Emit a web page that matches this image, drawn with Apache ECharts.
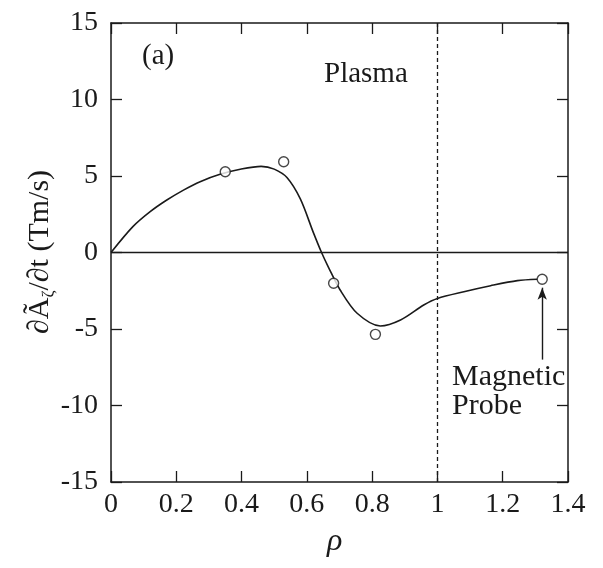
<!DOCTYPE html>
<html>
<head>
<meta charset="utf-8">
<script src="https://cdn.jsdelivr.net/npm/echarts@6/dist/echarts.min.js"></script>
<style>
html,body{margin:0;padding:0;background:#fff;}
#c{width:603px;height:568px;}
</style>
</head>
<body>
<div id="c"></div>
<script>
// Traced curve (rho, value)
var curveRho = [0, 0.067, 0.12, 0.171, 0.222, 0.273, 0.334, 0.396, 0.46, 0.50, 0.539, 0.58, 0.62, 0.645, 0.667, 0.702, 0.754, 0.825, 0.887, 0.958, 1.0, 1.081, 1.163, 1.245, 1.306];
var curveVal = [0, 1.69, 2.67, 3.43, 4.08, 4.63, 5.11, 5.44, 5.63, 5.45, 4.9, 3.5, 1.3, 0, -1.0, -2.45, -3.97, -4.80, -4.41, -3.43, -3.0, -2.56, -2.17, -1.84, -1.75];
// Measured points (open circles)
var pointRho = [0.350, 0.529, 0.682, 0.810, 1.321];
var pointVal = [5.28, 5.93, -2.01, -5.35, -1.75];
// Tick labels
var xTickLabels = ['0', '0.2', '0.4', '0.6', '0.8', '1', '1.2', '1.4'];
var yTickLabels = ['-15', '-10', '-5', '0', '5', '10', '15'];
// Annotations
var plasmaEdge = 1;
var probeArrow = [[1.321, -7.0], [1.321, -2.3]];

var FONT = '"Liberation Serif", "DejaVu Serif", serif';
var INK = '#1a1a1a';

var curveData = curveRho.map(function (r, i) { return [r, curveVal[i]]; });
var pointData = pointRho.map(function (r, i) { return [r, pointVal[i]]; });

var chart = echarts.init(document.getElementById('c'));

function xLabel(v) {
  var idx = Math.round(v / 0.2);
  return xTickLabels[idx] !== undefined ? xTickLabels[idx] : '';
}
function yLabel(v) {
  var idx = Math.round((v + 15) / 5);
  return yTickLabels[idx] !== undefined ? yTickLabels[idx] : '';
}

var axisLine = { show: true, onZero: false, lineStyle: { color: INK, width: 1.5 } };
var tick = { show: true, inside: true, length: 11, lineStyle: { color: INK, width: 1.3 } };

chart.setOption({
  backgroundColor: '#fff',
  animation: false,
  grid: { left: 111, right: 35, top: 23, bottom: 86 },
  xAxis: [{
    type: 'value', min: 0, max: 1.4, interval: 0.2, position: 'bottom',
    axisLine: axisLine, axisTick: tick, splitLine: { show: false },
    axisLabel: { formatter: xLabel, color: INK, fontFamily: FONT, fontSize: 28, margin: 9 }
  }, {
    type: 'value', min: 0, max: 1.4, interval: 0.2, position: 'top',
    axisLine: axisLine, axisTick: tick, splitLine: { show: false },
    axisLabel: { show: false }
  }],
  yAxis: [{
    type: 'value', min: -15, max: 15, interval: 5, position: 'left',
    axisLine: axisLine, axisTick: tick, splitLine: { show: false },
    axisLabel: { formatter: yLabel, color: INK, fontFamily: FONT, fontSize: 28, margin: 13 }
  }, {
    type: 'value', min: -15, max: 15, interval: 5, position: 'right',
    axisLine: axisLine, axisTick: tick, splitLine: { show: false },
    axisLabel: { show: false }
  }],
  series: [{
    type: 'line',
    data: curveData,
    smooth: 0.3,
    showSymbol: false,
    lineStyle: { color: INK, width: 1.6 },
    z: 3,
    markLine: {
      silent: true,
      symbol: ['none', 'none'],
      label: { show: false },
      data: [
        { xAxis: plasmaEdge, lineStyle: { color: INK, width: 1.3, type: [4, 3] } },
        { yAxis: 0, lineStyle: { color: INK, width: 1.4, type: 'solid' } }
      ]
    }
  }, {
    type: 'scatter',
    data: pointData,
    symbol: 'circle',
    symbolSize: 10,
    itemStyle: { color: '#fff', borderColor: INK, borderWidth: 1.4 },
    z: 5,
    markLine: {
      silent: true,
      symbol: ['none', 'arrow'],
      symbolSize: [7, 12],
      label: { show: false },
      lineStyle: { color: INK, width: 1.4, type: 'solid' },
      data: [[{ coord: probeArrow[0] }, { coord: probeArrow[1] }]]
    }
  }],
  graphic: [
    { type: 'text', left: 142, top: 42, style: { text: '(a)', font: '29px ' + FONT, fill: INK } },
    { type: 'text', left: 324, top: 60, style: { text: 'Plasma', font: '29px ' + FONT, fill: INK } },
    { type: 'text', left: 452, top: 362, style: { text: 'Magnetic', font: '30px ' + FONT, fill: INK } },
    { type: 'text', left: 452, top: 391, style: { text: 'Probe', font: '30px ' + FONT, fill: INK } },
    { type: 'text', left: 327, top: 526, style: { text: 'ρ', font: 'italic 32px ' + FONT, fill: INK } },
    {
      type: 'text', x: 40, y: 252, rotation: Math.PI / 2,
      style: {
        text: '{d|∂Ã}{s|ζ}{d|/∂t (Tm/s)}',
        align: 'center', verticalAlign: 'middle', fill: INK,
        rich: {
          d: { fontFamily: FONT, fontSize: 30, lineHeight: 34, fill: INK },
          s: { fontFamily: FONT, fontSize: 17, lineHeight: 14, verticalAlign: 'bottom', fill: INK }
        }
      }
    }
  ]
});
</script>
</body>
</html>
